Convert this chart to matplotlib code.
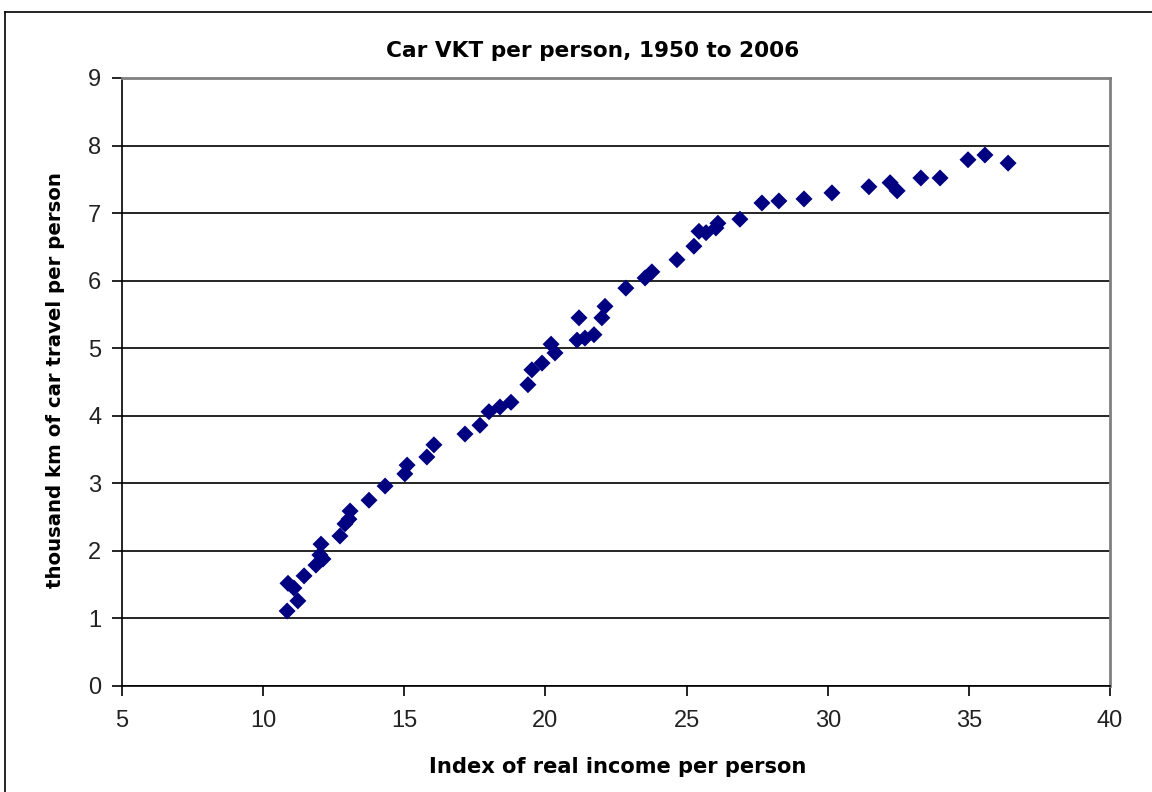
import matplotlib
matplotlib.use("Agg")
import matplotlib.pyplot as plt
from matplotlib.lines import Line2D

income_index = [10.85, 10.88, 11.09, 11.23, 11.45, 11.87, 12.05, 12.01, 12.12, 12.72,
                12.90, 13.04, 13.08, 13.75, 14.32, 15.02, 15.10, 15.80, 16.05, 17.15,
                17.68, 18.00, 18.39, 18.78, 19.38, 19.52, 19.88, 20.20, 20.34, 21.12,
                21.19, 21.40, 21.72, 22.00, 22.11, 22.85, 23.53, 23.77, 24.66, 25.26,
                25.44, 25.69, 26.04, 26.11, 26.89, 27.67, 28.27, 29.16, 30.15, 31.46,
                32.21, 32.46, 33.30, 33.98, 34.97, 35.57, 36.39]
vkt_thousand_km = [1.11, 1.52, 1.45, 1.26, 1.63, 1.79, 2.10, 1.94, 1.88, 2.22,
                   2.40, 2.47, 2.59, 2.75, 2.96, 3.14, 3.27, 3.39, 3.57, 3.73,
                   3.86, 4.06, 4.13, 4.20, 4.46, 4.68, 4.78, 5.06, 4.93, 5.12,
                   5.45, 5.15, 5.20, 5.45, 5.62, 5.89, 6.04, 6.13, 6.31, 6.51,
                   6.73, 6.71, 6.78, 6.85, 6.91, 7.15, 7.18, 7.21, 7.30, 7.39,
                   7.45, 7.33, 7.52, 7.52, 7.79, 7.86, 7.74]

x_ticks = [5, 10, 15, 20, 25, 30, 35, 40]
y_ticks = [0, 1, 2, 3, 4, 5, 6, 7, 8, 9]

plt.rcParams['font.family'] = ['Liberation Sans', 'DejaVu Sans']
label_font = ['DejaVu Sans']

W, H = 1152, 792
fig = plt.figure(figsize=(W / 100, H / 100), dpi=100)
ax = fig.add_axes([122 / W, 1 - 686 / H, (1110 - 122) / W, (686 - 78) / H])

# outer chart frame
fig.add_artist(Line2D([5 / W, 5 / W], [0, 1 - 12 / H], color='black', lw=1.2, transform=fig.transFigure))
fig.add_artist(Line2D([5 / W, 1], [1 - 12 / H, 1 - 12 / H], color='black', lw=1.2, transform=fig.transFigure))

ax.set_xlim(5, 40)
ax.set_ylim(0, 9)
ax.set_xticks(x_ticks)
ax.set_yticks(y_ticks)
ax.yaxis.grid(True, color='black', lw=1.2)
ax.set_axisbelow(True)

ax.scatter(income_index, vkt_thousand_km, marker='D', s=75, color='#000080',
           edgecolors='none', zorder=3)

for side in ['top', 'right']:
    ax.spines[side].set_color('#808080')
    ax.spines[side].set_linewidth(2)
for side in ['left', 'bottom']:
    ax.spines[side].set_color('black')
    ax.spines[side].set_linewidth(1.2)

ax.tick_params(axis='both', direction='out', length=7, width=1.2, labelsize=17, colors='black')
ax.tick_params(axis='x', pad=10)
ax.tick_params(axis='y', pad=8)
for lbl in ax.get_xticklabels() + ax.get_yticklabels():
    lbl.set_color('#222222')

fig.text(0.5 * (385 + 800) / W, 1 - 57 / H, 'Car VKT per person, 1950 to 2006',
         family=label_font, fontsize=15.6, fontweight='bold', ha='center', va='baseline')
fig.text(618 / W, 1 - 773 / H, 'Index of real income per person',
         family=label_font, fontsize=15.1, fontweight='bold', ha='center', va='baseline')
fig.text(61 / W, 1 - 380 / H, 'thousand km of car travel per person',
         family=label_font, fontsize=14.2, fontweight='bold', ha='center', va='baseline',
         rotation=90, rotation_mode='anchor')

fig.savefig('out.png', dpi=100)
